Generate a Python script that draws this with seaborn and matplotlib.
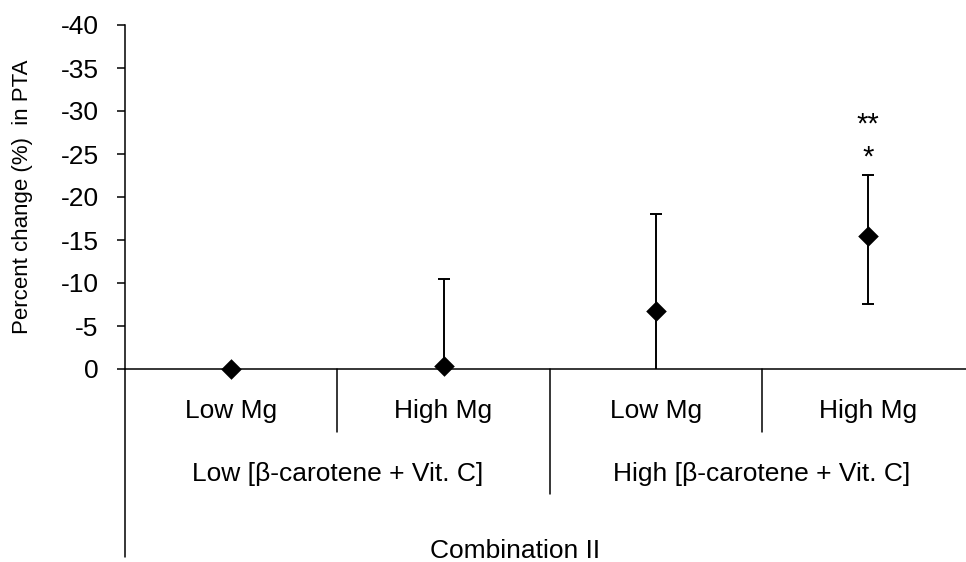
import matplotlib
matplotlib.use("Agg")
import matplotlib.pyplot as plt
import matplotlib.transforms as mtransforms
from matplotlib.lines import Line2D
import seaborn as sns
import pandas as pd
import numpy as np

# ---- data ----
mg_labels = ["Low Mg", "High Mg", "Low Mg", "High Mg"]
group_labels = ["Low [β-carotene + Vit. C]", "High [β-carotene + Vit. C]"]
outer_label = "Combination II"
values = [0.0, -0.3, -6.7, -15.5]
err_neg = [0.0, 10.2, 11.3, 7.1]   # toward more negative values (upward on inverted axis)
err_pos = [0.0, 10.2, 11.3, 7.9]   # toward less negative values
sig1 = "*"
sig2 = "**"
sig1_y = -25.3
sig2_y = -29.2
yticks = [0, -5, -10, -15, -20, -25, -30, -35, -40]
ylabel = "Percent change (%)  in PTA"

sns.set_style("white")
plt.rcParams["font.family"] = ["Liberation Sans", "DejaVu Sans"]
for k in ["text.color", "axes.labelcolor", "xtick.color", "ytick.color", "axes.edgecolor"]:
    plt.rcParams[k] = "black"

W, H = 966, 562
fig = plt.figure(figsize=(W / 100, H / 100), dpi=100)
ax_l, ax_b_px, ax_r, ax_t = 125, 369, 966, 25
ax = fig.add_axes([ax_l / W, (H - ax_b_px) / H, (ax_r - ax_l) / W, (ax_b_px - ax_t) / H])
ax_h = ax_b_px - ax_t

df = pd.DataFrame({"pos": np.arange(len(values)), "val": values})

ax.errorbar(df["pos"], df["val"], yerr=[err_neg, err_pos], fmt="none",
            ecolor="black", elinewidth=1.4, capsize=4.5, capthick=1.4, zorder=2)
sns.scatterplot(data=df, x="pos", y="val", marker="D", s=110, color="black",
                edgecolor="black", linewidth=0, ax=ax, zorder=3, clip_on=False)

ax.set_xlim(-0.5, 3.46)
ax.set_ylim(0, -40)
ax.set_yticks(yticks)
ax.set_yticklabels([f"{t}" for t in yticks], fontsize=19)
ax.tick_params(axis="y", left=True, direction="out", length=6, width=1.1, pad=13, color="black")
ax.set_xticks([])
ax.set_xlabel("")
ax.set_ylabel("")
for s in ["top", "right"]:
    ax.spines[s].set_visible(False)
for s in ["left", "bottom"]:
    ax.spines[s].set_color("black")
    ax.spines[s].set_linewidth(1.1)

# y label
fig.text(23 / W, (H - (61 + 332) / 2) / H, ylabel, rotation=90, ha="center", va="center",
         fontsize=16, family=["Liberation Sans", "DejaVu Sans"])

# significance markers
ax.annotate(sig1, (3, sig1_y), xytext=(0, -4.5), textcoords="offset points",
            ha="center", va="center", fontsize=21)
ax.annotate(sig2, (3, sig2_y), xytext=(0, -4.5), textcoords="offset points",
            ha="center", va="center", fontsize=21)

# multi-level category axis
trans = mtransforms.blended_transform_factory(ax.transData, ax.transAxes)
def fy(px):
    return (ax_b_px - px) / ax_h

ax.add_line(Line2D([0, 0], [0, fy(557)], transform=ax.transAxes, color="black", lw=1.1, clip_on=False))
for xs, bottom in [(0.5, 432), (2.5, 432), (1.5, 494)]:
    ax.add_line(Line2D([xs, xs], [0, fy(bottom)], transform=trans, color="black", lw=1.1, clip_on=False))

for i, lab in enumerate(mg_labels):
    ax.text(i, fy(418), lab, transform=trans, ha="center", va="baseline", fontsize=19)
for j, lab in enumerate(group_labels):
    ax.text(0.5 + 2 * j, fy(481), lab, transform=trans, ha="center", va="baseline", fontsize=19)
ax.text((515 - ax_l) / (ax_r - ax_l), fy(558), outer_label, transform=ax.transAxes,
        ha="center", va="baseline", fontsize=19)

fig.savefig("out.png", dpi=100)
